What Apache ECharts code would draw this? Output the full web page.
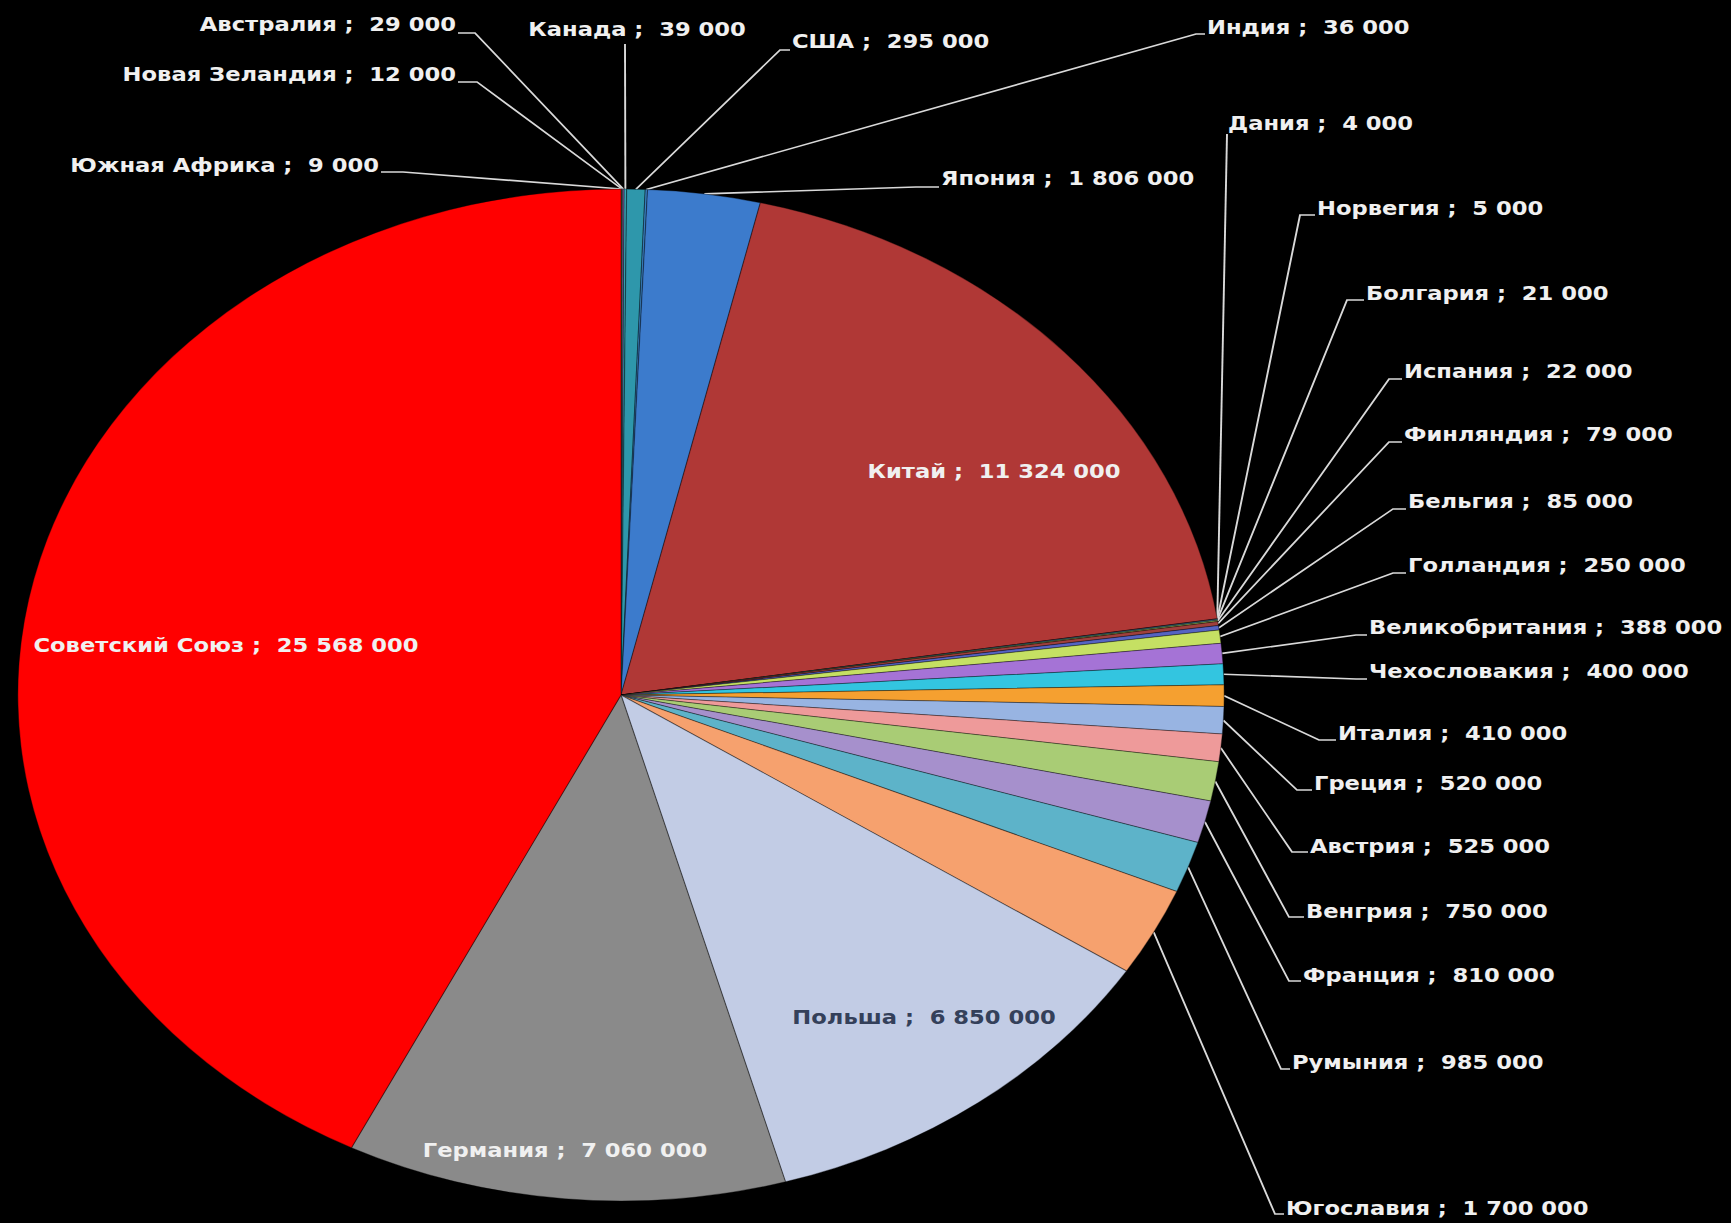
<!DOCTYPE html>
<html>
<head>
<meta charset="utf-8">
<script src="https://cdn.jsdelivr.net/npm/echarts@6/dist/echarts.min.js"></script>
<style>
  html, body { margin: 0; padding: 0; background: #000; overflow: hidden; width: 1731px; height: 1223px; }
  #wrap { position: absolute; left: 0; top: 0; width: 1452px; height: 1223px; transform: scaleX(1.192); transform-origin: 0 0; }
</style>
</head>
<body>
<div id="wrap"></div>
<script>
// ---- data (clockwise from 12 o'clock) ----
const countries = [
  'Южная Африка', 'Новая Зеландия', 'Австралия', 'Канада', 'США', 'Индия', 'Япония', 'Китай',
  'Дания', 'Норвегия', 'Болгария', 'Испания', 'Финляндия', 'Бельгия', 'Голландия',
  'Великобритания', 'Чехословакия', 'Италия', 'Греция', 'Австрия', 'Венгрия', 'Франция',
  'Румыния', 'Югославия', 'Польша', 'Германия', 'Советский Союз'
];
const losses = [
  9000, 12000, 29000, 39000, 295000, 36000, 1806000, 11324000,
  4000, 5000, 21000, 22000, 79000, 85000, 250000,
  388000, 400000, 410000, 520000, 525000, 750000, 810000,
  985000, 1700000, 6850000, 7060000, 25568000
];
const sliceColors = [
  '#4f81bd', '#9bbb59', '#8064a2', '#3aa6bb', '#2e97ab', '#3b86c8', '#3c7bcc', '#b03836',
  '#7a4fa0', '#c0504d', '#4bacc6', '#9bbb59', '#a0403c', '#5563c2', '#c5e063',
  '#a573d6', '#33c5e0', '#f5a030', '#98b4e2', '#ee9a9a', '#a9cc75', '#a690cc',
  '#5db3c9', '#f6a16e', '#c2cce5', '#8a8a8a', '#ff0000'
];
const insideLabels = ['Китай', 'Польша', 'Германия', 'Советский Союз'];

// ---- layout (image pixel coordinates) ----
const SX = 1.192;               // horizontal stretch of the picture
const PIE_CENTER = [621, 695];
const PIE_RADIUS = 506;
// tx,ty: text anchor; bx,by: start of the short horizontal leader segment
const labelSpots = {
  'Южная Африка':   { tx: 379,  ty: 166,  align: 'right',  bx: 403,  by: 172 },
  'Новая Зеландия': { tx: 456,  ty: 75,   align: 'right',  bx: 477,  by: 82 },
  'Австралия':      { tx: 456,  ty: 25,   align: 'right',  bx: 475,  by: 33 },
  'Канада':         { tx: 637,  ty: 30,   align: 'center', bx: 625,  by: 44, straight: true },
  'США':            { tx: 792,  ty: 42,   align: 'left',   bx: 780,  by: 50 },
  'Индия':          { tx: 1207, ty: 28,   align: 'left',   bx: 1196, by: 34 },
  'Япония':         { tx: 941,  ty: 179,  align: 'left',   bx: 916,  by: 187 },
  'Китай':          { tx: 994,  ty: 472,  align: 'center' },
  'Дания':          { tx: 1228, ty: 124,  align: 'left',   bx: 1227, by: 134, straight: true },
  'Норвегия':       { tx: 1317, ty: 209,  align: 'left',   bx: 1300, by: 215 },
  'Болгария':       { tx: 1366, ty: 294,  align: 'left',   bx: 1347, by: 300 },
  'Испания':        { tx: 1404, ty: 372,  align: 'left',   bx: 1389, by: 379 },
  'Финляндия':      { tx: 1404, ty: 435,  align: 'left',   bx: 1389, by: 442 },
  'Бельгия':        { tx: 1408, ty: 502,  align: 'left',   bx: 1393, by: 509 },
  'Голландия':      { tx: 1408, ty: 566,  align: 'left',   bx: 1393, by: 573 },
  'Великобритания': { tx: 1369, ty: 628,  align: 'left',   bx: 1356, by: 635 },
  'Чехословакия':   { tx: 1369, ty: 672,  align: 'left',   bx: 1356, by: 679 },
  'Италия':         { tx: 1338, ty: 734,  align: 'left',   bx: 1319, by: 740 },
  'Греция':         { tx: 1314, ty: 784,  align: 'left',   bx: 1297, by: 790 },
  'Австрия':        { tx: 1310, ty: 847,  align: 'left',   bx: 1292, by: 852 },
  'Венгрия':        { tx: 1306, ty: 912,  align: 'left',   bx: 1289, by: 917 },
  'Франция':        { tx: 1303, ty: 976,  align: 'left',   bx: 1289, by: 981 },
  'Румыния':        { tx: 1292, ty: 1063, align: 'left',   bx: 1281, by: 1069 },
  'Югославия':      { tx: 1286, ty: 1209, align: 'left',   bx: 1275, by: 1214 },
  'Польша':         { tx: 924,  ty: 1018, align: 'center', color: '#34405a' },
  'Германия':       { tx: 565,  ty: 1151, align: 'center' },
  'Советский Союз': { tx: 226,  ty: 646,  align: 'center' }
};

function fmt(v) {
  return String(v).replace(/\B(?=(\d{3})+(?!\d))/g, ' ');
}

const pieData = countries.map((name, i) => {
  const item = {
    name: name,
    value: losses[i],
    itemStyle: { color: sliceColors[i] }
  };
  if (insideLabels.indexOf(name) >= 0) {
    item.label = { position: 'inside' };
    if (labelSpots[name].color) item.label.color = labelSpots[name].color;
    item.labelLine = { show: false };
  }
  return item;
});

const chart = echarts.init(document.getElementById('wrap'), null, { renderer: 'svg' });
chart.setOption({
  backgroundColor: '#000',
  animation: false,
  series: [{
    type: 'pie',
    center: [PIE_CENTER[0] / SX, PIE_CENTER[1]],
    radius: PIE_RADIUS,
    startAngle: 90,
    clockwise: true,
    avoidLabelOverlap: false,
    silent: true,
    emphasis: { disabled: true },
    itemStyle: { borderColor: 'rgba(0,0,0,0.35)', borderWidth: 1 },
    label: {
      show: true,
      color: '#f0f0f0',
      fontFamily: 'DejaVu Sans',
      fontWeight: 'bold',
      fontSize: 19,
      formatter: p => p.name + ' ;  ' + fmt(p.value)
    },
    labelLine: {
      show: true,
      smooth: false,
      lineStyle: { color: '#d9d9d9', width: 1.6 }
    },
    labelLayout: function (params) {
      const name = countries[params.dataIndex];
      const s = labelSpots[name];
      const out = {
        x: s.tx / SX,
        y: s.ty,
        align: s.align,
        verticalAlign: 'middle'
      };
      if (s.bx != null && params.labelLinePoints) {
        const p0 = params.labelLinePoints[0];
        let ex = s.bx;
        if (!s.straight) {
          ex = s.align === 'right' ? s.tx + 2 : s.tx - 2;
        }
        out.labelLinePoints = [p0, [s.bx / SX, s.by], [ex / SX, s.by]];
      }
      return out;
    },
    data: pieData
  }]
});
</script>
</body>
</html>
